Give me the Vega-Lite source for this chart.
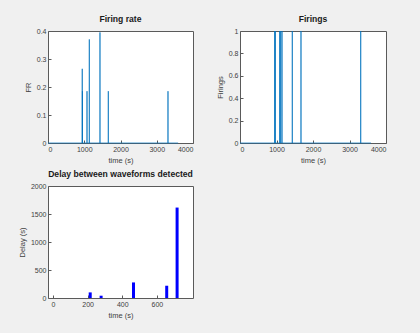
{
  "$schema": "https://vega.github.io/schema/vega-lite/v6.json",
  "background": "#f0f0f0",
  "padding": {"left": 17, "top": 14, "right": 36, "bottom": 20},
  "bounds": "flush",
  "columns": 2,
  "spacing": {"row": 43, "column": 47},
  "datasets": {
    "fr": [
      {"t": 0, "v": 0}, {"t": 944, "v": 0}, {"t": 945, "v": 0.265}, {"t": 946, "v": 0},
      {"t": 949, "v": 0}, {"t": 950, "v": 0.185}, {"t": 951, "v": 0},
      {"t": 1075, "v": 0}, {"t": 1076, "v": 0.185}, {"t": 1077, "v": 0},
      {"t": 1139, "v": 0}, {"t": 1140, "v": 0.37}, {"t": 1141, "v": 0},
      {"t": 1433, "v": 0}, {"t": 1434, "v": 0.395}, {"t": 1435, "v": 0},
      {"t": 1663, "v": 0}, {"t": 1664, "v": 0.185}, {"t": 1665, "v": 0},
      {"t": 3309, "v": 0}, {"t": 3310, "v": 0.185}, {"t": 3311, "v": 0},
      {"t": 3590, "v": 0}
    ],
    "firings": [
      {"t": 0, "v": 0}, {"t": 949, "v": 0}, {"t": 950, "v": 1}, {"t": 951, "v": 0},
      {"t": 967, "v": 0}, {"t": 968, "v": 1}, {"t": 969, "v": 0},
      {"t": 1086, "v": 0}, {"t": 1087, "v": 1}, {"t": 1088, "v": 0},
      {"t": 1113, "v": 0}, {"t": 1114, "v": 1}, {"t": 1115, "v": 0},
      {"t": 1150, "v": 0}, {"t": 1151, "v": 1}, {"t": 1152, "v": 0},
      {"t": 1432, "v": 0}, {"t": 1433, "v": 1}, {"t": 1434, "v": 0},
      {"t": 1670, "v": 0}, {"t": 1671, "v": 1}, {"t": 1672, "v": 0},
      {"t": 3306, "v": 0}, {"t": 3307, "v": 1}, {"t": 3308, "v": 0},
      {"t": 3590, "v": 0}
    ],
    "delay": [
      {"t": 215, "d": 100},
      {"t": 278, "d": 41},
      {"t": 465, "d": 278},
      {"t": 657, "d": 219},
      {"t": 717, "d": 1615}
    ]
  },
  "config": {
    "font": "Liberation Sans",
    "view": {"fill": "white", "stroke": "#5a5a5a", "strokeWidth": 1},
    "axis": {
      "grid": false,
      "domain": false,
      "tickSize": -3,
      "tickColor": "#5a5a5a",
      "labelFontSize": 7,
      "labelColor": "#404040",
      "titleFontSize": 7.5,
      "titleFontWeight": "normal",
      "titleColor": "#404040",
      "labelPadding": 5,
      "titlePadding": 4
    },
    "title": {"fontSize": 8.6, "fontWeight": "bold", "color": "#1a1a1a", "offset": 3}
  },
  "concat": [
    {
      "title": "Firing rate",
      "width": 145,
      "height": 112,
      "data": {"name": "fr"},
      "mark": {"type": "line", "color": "#0072BD", "strokeWidth": 1, "opacity": 0.7},
      "encoding": {
        "x": {"field": "t", "type": "quantitative", "scale": {"domain": [0, 4000], "nice": false},
              "axis": {"title": "time (s)", "values": [0, 1000, 2000, 3000, 4000], "format": "d"}},
        "y": {"field": "v", "type": "quantitative", "scale": {"domain": [0, 0.4], "nice": false},
              "axis": {"title": "FR", "values": [0, 0.1, 0.2, 0.3, 0.4], "format": "~g"}}
      }
    },
    {
      "title": "Firings",
      "width": 146,
      "height": 112,
      "data": {"name": "firings"},
      "mark": {"type": "line", "color": "#0072BD", "strokeWidth": 1, "opacity": 0.7},
      "encoding": {
        "x": {"field": "t", "type": "quantitative", "scale": {"domain": [0, 4000], "nice": false},
              "axis": {"title": "time (s)", "values": [0, 1000, 2000, 3000, 4000], "format": "d"}},
        "y": {"field": "v", "type": "quantitative", "scale": {"domain": [0, 1], "nice": false},
              "axis": {"title": "Firings", "values": [0, 0.2, 0.4, 0.6, 0.8, 1], "format": "~g"}}
      }
    },
    {
      "title": "Delay between waveforms detected",
      "width": 145,
      "height": 112,
      "data": {"name": "delay"},
      "mark": {"type": "bar", "color": "#0000ff", "size": 3},
      "encoding": {
        "x": {"field": "t", "type": "quantitative", "scale": {"domain": [0, 780], "nice": false},
              "axis": {"title": "time (s)", "values": [0, 200, 400, 600], "format": "d"}},
        "y": {"field": "d", "type": "quantitative", "scale": {"domain": [0, 2000], "nice": false},
              "axis": {"title": "Delay (s)", "values": [0, 500, 1000, 1500, 2000], "format": "d"}}
      }
    }
  ]
}
